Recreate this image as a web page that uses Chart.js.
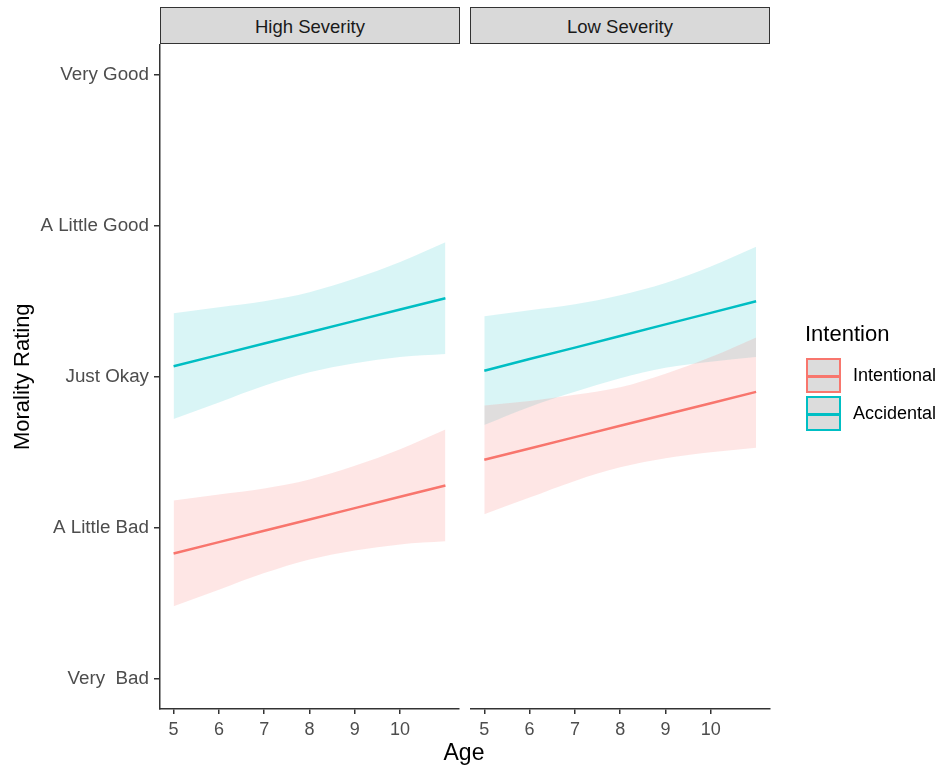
<!DOCTYPE html>
<html>
<head>
<meta charset="utf-8">
<script src="https://cdn.jsdelivr.net/npm/chart.js@4/dist/chart.umd.min.js"></script>
<style>
  body { margin: 0; background: #fff; font-family: "Liberation Sans", Arial, sans-serif; }
  #wrap { position: relative; width: 943px; height: 768px; overflow: hidden; }
  #wrap canvas { position: absolute; left: 0; top: 0; }
  .strip {
    position: absolute; top: 7px; height: 37px; box-sizing: border-box;
    background: #d9d9d9; border: 1px solid #333;
    font-size: 18.5px; color: #1a1a1a; text-align: center; line-height: 38px;
  }
  .xtitle { position: absolute; left: 414px; width: 100px; top: 739px; text-align: center; font-size: 23px; color: #000; }
  .legend { position: absolute; left: 805px; top: 321px; color: #000; }
  .legend .ttl { font-size: 22px; margin-bottom: 11px; }
  .legend .row { position: relative; height: 38px; }
  .legend .key { position: absolute; left: 1px; top: 0; width: 35px; height: 35px; box-sizing: border-box; background: #dcdcdc; border: 2px solid; }
  .legend .key i { position: absolute; left: 0; right: 0; top: 15px; height: 2.5px; }
  .legend .lbl { position: absolute; left: 48px; top: 7px; font-size: 18px; }
</style>
</head>
<body>
<div id="wrap">
  <canvas id="left" width="943" height="768"></canvas>
  <canvas id="right" width="943" height="768"></canvas>
  <div class="strip" style="left:160px;width:300px;">High Severity</div>
  <div class="strip" style="left:470px;width:300px;">Low Severity</div>
  <div class="xtitle">Age</div>
  <div class="legend">
    <div class="ttl">Intention</div>
    <div class="row"><div class="key" style="border-color:#F8766D"><i style="background:#F8766D"></i></div><span class="lbl">Intentional</span></div>
    <div class="row"><div class="key" style="border-color:#00BFC4"><i style="background:#00BFC4"></i></div><span class="lbl">Accidental</span></div>
  </div>
</div>
<script>
// ages along x, and the rating scale
const ages = [5, 6, 7, 8, 9, 10, 11];
const xTicks = [5, 6, 7, 8, 9, 10];
const yTicks = [1, 2, 3, 4, 5];
const yLabels = ["Very  Bad", "A Little Bad", "Just Okay", "A Little Good", "Very Good"];

// High Severity
const highAccFit   = [3.07, 3.145, 3.22, 3.295, 3.37, 3.445, 3.52];
const highAccUpper = [3.42, 3.46, 3.50, 3.56, 3.65, 3.76, 3.89];
const highAccLower = [2.72, 2.83, 2.94, 3.03, 3.09, 3.13, 3.15];
const highIntFit   = [1.83, 1.905, 1.98, 2.055, 2.13, 2.205, 2.28];
const highIntUpper = [2.18, 2.22, 2.26, 2.32, 2.41, 2.52, 2.65];
const highIntLower = [1.48, 1.59, 1.70, 1.79, 1.85, 1.89, 1.91];

// Low Severity
const lowAccFit   = [3.04, 3.117, 3.193, 3.27, 3.347, 3.423, 3.50];
const lowAccUpper = [3.40, 3.44, 3.48, 3.54, 3.62, 3.73, 3.86];
const lowAccLower = [2.68, 2.80, 2.90, 2.99, 3.06, 3.10, 3.13];
const lowIntFit   = [2.45, 2.525, 2.60, 2.675, 2.75, 2.825, 2.90];
const lowIntUpper = [2.81, 2.84, 2.88, 2.93, 3.02, 3.13, 3.26];
const lowIntLower = [2.09, 2.20, 2.31, 2.40, 2.46, 2.50, 2.53];

const RED = '#F8766D';
const TEAL = '#00BFC4';
const tickColor = '#4d4d4d';
const axisColor = '#333';

const pts = (ys) => ages.map((a, i) => ({ x: a, y: ys[i] }));

const band = (ys, fillColor, fill) => ({
    data: pts(ys),
    borderWidth: 0,
    pointRadius: 0,
    backgroundColor: fillColor,
    fill: fill,
    cubicInterpolationMode: 'monotone',
});

const fitLine = (ys, color) => ({
    data: pts(ys),
    borderColor: color,
    borderWidth: 2.5,
    pointRadius: 0,
    fill: false,
    tension: 0,
});

const makePanel = (id, sets, pad, showY) => {
    const d = sets;
    new Chart(document.getElementById(id), {
        type: 'line',
        data: {
            datasets: [
                band(d.intUp, 'rgba(248,118,109,0.18)', '+1'),
                band(d.intLo, 'transparent', false),
                band(d.accUp, 'rgba(0,191,196,0.15)', '+1'),
                band(d.accLo, 'transparent', false),
                fitLine(d.intFit, RED),
                fitLine(d.accFit, TEAL),
            ],
        },
        options: {
            responsive: false,
            animation: false,
            devicePixelRatio: 1,
            layout: { padding: pad },
            plugins: { legend: { display: false }, tooltip: { enabled: false } },
            scales: {
                x: {
                    type: 'linear',
                    min: 4.7,
                    max: 11.3,
                    afterBuildTicks: (s) => { s.ticks = xTicks.map(v => ({ value: v })); },
                    afterFit: (s) => { s.height = 59; },
                    grid: { drawOnChartArea: false, drawTicks: true, tickLength: 5, color: axisColor, lineWidth: 1.5 },
                    border: { display: true, color: axisColor, width: 1.5 },
                    ticks: { autoSkip: false, maxRotation: 0, padding: 5, color: tickColor,
                             font: { family: 'Liberation Sans', size: 18 } },
                },
                y: {
                    type: 'linear',
                    display: showY,
                    min: 0.8,
                    max: 5.2,
                    afterBuildTicks: (s) => { s.ticks = yTicks.map(v => ({ value: v })); },
                    afterFit: (s) => { s.width = showY ? 160 : 0; },
                    grid: { drawOnChartArea: false, drawTicks: true, tickLength: 6, color: axisColor, lineWidth: 1.5 },
                    border: { display: true, color: axisColor, width: 1.5 },
                    ticks: { autoSkip: false, padding: 5, color: tickColor,
                             font: { family: 'Liberation Sans', size: 18.8 },
                             callback: (v) => yLabels[yTicks.indexOf(v)] },
                    title: { display: true, text: 'Morality Rating', color: '#000',
                             padding: { top: 10, bottom: 0 },
                             font: { family: 'Liberation Sans', size: 22 } },
                },
            },
        },
    });
};

makePanel('left', {
    intUp: highIntUpper, intLo: highIntLower, accUp: highAccUpper, accLo: highAccLower,
    intFit: highIntFit, accFit: highAccFit,
}, { top: 44.5, left: 0, right: 484, bottom: 0 }, true);

makePanel('right', {
    intUp: lowIntUpper, intLo: lowIntLower, accUp: lowAccUpper, accLo: lowAccLower,
    intFit: lowIntFit, accFit: lowAccFit,
}, { top: 44.5, left: 470.7, right: 173.3, bottom: 0 }, false);
</script>
</body>
</html>
